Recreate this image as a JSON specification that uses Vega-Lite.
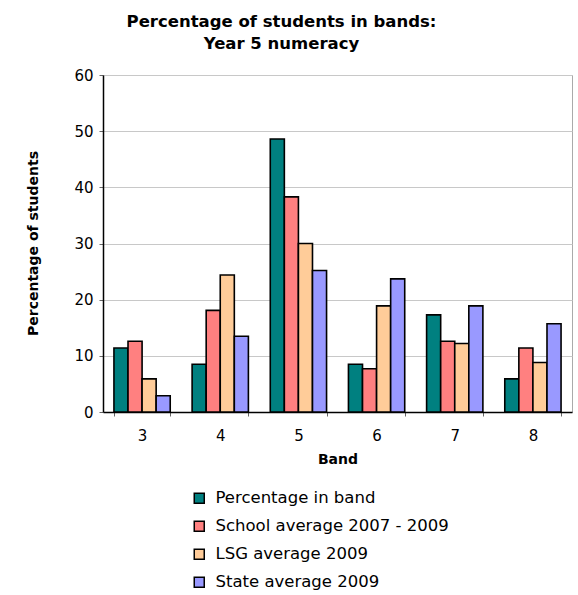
{
  "$schema": "https://vega.github.io/schema/vega-lite/v6.json",
  "width": 469,
  "height": 337,
  "autosize": {"type": "none"},
  "padding": {"left": 103, "top": 75, "right": 6, "bottom": 183},
  "background": "white",
  "title": {
    "text": ["Percentage of students in bands:", "Year 5 numeracy"],
    "font": "DejaVu Sans",
    "fontSize": 16.5,
    "fontWeight": "bold",
    "color": "black",
    "anchor": "middle",
    "dx": -56,
    "offset": 16,
    "lineHeight": 22
  },
  "data": {
    "values": [
      {"band": "3", "series": "Percentage in band", "value": 11.4},
      {"band": "3", "series": "School average 2007 - 2009", "value": 12.6},
      {"band": "3", "series": "LSG average 2009", "value": 5.9},
      {"band": "3", "series": "State average 2009", "value": 2.9},
      {"band": "4", "series": "Percentage in band", "value": 8.5},
      {"band": "4", "series": "School average 2007 - 2009", "value": 18.1},
      {"band": "4", "series": "LSG average 2009", "value": 24.4},
      {"band": "4", "series": "State average 2009", "value": 13.5},
      {"band": "5", "series": "Percentage in band", "value": 48.6},
      {"band": "5", "series": "School average 2007 - 2009", "value": 38.3},
      {"band": "5", "series": "LSG average 2009", "value": 30.0},
      {"band": "5", "series": "State average 2009", "value": 25.2},
      {"band": "6", "series": "Percentage in band", "value": 8.5},
      {"band": "6", "series": "School average 2007 - 2009", "value": 7.7},
      {"band": "6", "series": "LSG average 2009", "value": 18.9},
      {"band": "6", "series": "State average 2009", "value": 23.7},
      {"band": "7", "series": "Percentage in band", "value": 17.3},
      {"band": "7", "series": "School average 2007 - 2009", "value": 12.6},
      {"band": "7", "series": "LSG average 2009", "value": 12.2},
      {"band": "7", "series": "State average 2009", "value": 18.9},
      {"band": "8", "series": "Percentage in band", "value": 5.9},
      {"band": "8", "series": "School average 2007 - 2009", "value": 11.4},
      {"band": "8", "series": "LSG average 2009", "value": 8.8},
      {"band": "8", "series": "State average 2009", "value": 15.7}
    ]
  },
  "mark": {"type": "bar", "stroke": "black", "strokeWidth": 1.6},
  "encoding": {
    "x": {
      "field": "band",
      "type": "ordinal",
      "scale": {"paddingInner": 0.28, "paddingOuter": 0.14},
      "axis": {
        "title": "Band",
        "titleFont": "DejaVu Sans",
        "titleFontSize": 14,
        "titleFontWeight": "bold",
        "titleColor": "black",
        "titlePadding": 9,
        "labelAngle": 0,
        "labelFont": "DejaVu Sans",
        "labelFontSize": 15,
        "labelColor": "black",
        "labelPadding": 12,
        "tickBand": "extent",
        "tickSize": 4,
        "tickColor": "#666666",
        "domainColor": "black",
        "domainWidth": 1.5
      }
    },
    "xOffset": {
      "field": "series",
      "type": "nominal",
      "sort": ["Percentage in band", "School average 2007 - 2009", "LSG average 2009", "State average 2009"],
      "scale": {"paddingInner": 0}
    },
    "y": {
      "field": "value",
      "type": "quantitative",
      "scale": {"domain": [0, 60], "nice": false},
      "axis": {
        "title": "Percentage of students",
        "titleFont": "DejaVu Sans",
        "titleFontSize": 14,
        "titleFontWeight": "bold",
        "titleColor": "black",
        "titleX": -70,
        "titleY": 168,
        "titleAngle": -90,
        "titleBaseline": "middle",
        "titleAlign": "center",
        "values": [0, 10, 20, 30, 40, 50, 60],
        "labelFont": "DejaVu Sans",
        "labelFontSize": 15,
        "labelColor": "black",
        "labelPadding": 6,
        "tickSize": 4,
        "tickColor": "#666666",
        "domainColor": "black",
        "domainWidth": 1.5,
        "grid": true,
        "gridColor": "#c8c8c8",
        "gridWidth": 1
      }
    },
    "color": {
      "field": "series",
      "type": "nominal",
      "sort": ["Percentage in band", "School average 2007 - 2009", "LSG average 2009", "State average 2009"],
      "scale": {
        "domain": ["Percentage in band", "School average 2007 - 2009", "LSG average 2009", "State average 2009"],
        "range": ["#008080", "#FF8080", "#FFCC99", "#9999FF"]
      },
      "legend": {
        "title": null,
        "orient": "none",
        "legendX": 88,
        "legendY": 415,
        "symbolType": "square",
        "symbolSize": 100,
        "symbolStrokeColor": "black",
        "symbolStrokeWidth": 1.5,
        "labelFont": "DejaVu Sans",
        "labelFontSize": 16.5,
        "labelColor": "black",
        "labelOffset": 8,
        "labelLimit": 400,
        "rowPadding": 11
      }
    }
  },
  "config": {
    "view": {"stroke": "#aaaaaa", "strokeWidth": 1},
    "font": "DejaVu Sans"
  }
}
